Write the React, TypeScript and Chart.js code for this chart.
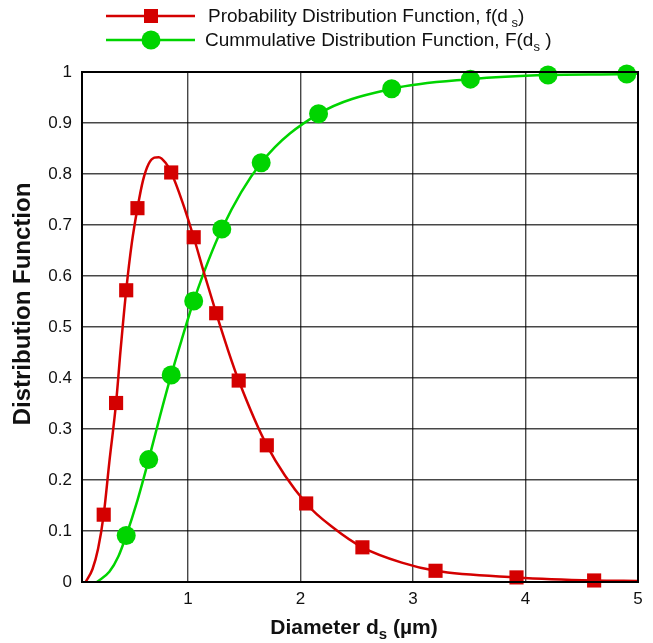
import React, { useEffect, useRef } from "react";
import { Chart, registerables } from "chart.js";

Chart.register(...registerables);

// Probability distribution function f(ds): markers
const pdfMarkerX = [0.25, 0.36, 0.45, 0.55, 0.85, 1.05, 1.25, 1.45, 1.7, 2.05, 2.55, 3.2, 3.92, 4.61];
const pdfMarkerY = [0.132, 0.351, 0.572, 0.733, 0.803, 0.676, 0.527, 0.395, 0.268, 0.154, 0.068, 0.022, 0.009, 0.003];
// f(ds): curve
const pdfCurveX = [0.09, 0.15, 0.2, 0.25, 0.3, 0.36, 0.4, 0.45, 0.5, 0.55, 0.6, 0.65, 0.7, 0.74, 0.8, 0.85, 0.95, 1.05, 1.15, 1.25, 1.35, 1.45, 1.7, 2.05, 2.3, 2.55, 2.9, 3.2, 3.92, 4.61, 5.0];
const pdfCurveY = [0.0, 0.025, 0.065, 0.132, 0.235, 0.351, 0.455, 0.572, 0.665, 0.733, 0.788, 0.82, 0.832, 0.833, 0.822, 0.803, 0.745, 0.676, 0.6, 0.527, 0.458, 0.395, 0.268, 0.154, 0.105, 0.068, 0.038, 0.022, 0.009, 0.003, 0.002];

// Cumulative distribution function F(ds): markers
const cdfMarkerX = [0.45, 0.65, 0.85, 1.05, 1.3, 1.65, 2.16, 2.81, 3.51, 4.2, 4.9];
const cdfMarkerY = [0.091, 0.24, 0.406, 0.551, 0.692, 0.822, 0.918, 0.967, 0.986, 0.994, 0.996];
// F(ds): curve
const cdfCurveX = [0.19, 0.3, 0.38, 0.45, 0.55, 0.65, 0.75, 0.85, 0.95, 1.05, 1.3, 1.65, 2.16, 2.81, 3.51, 4.2, 4.9, 5.0];
const cdfCurveY = [0.0, 0.02, 0.05, 0.091, 0.16, 0.24, 0.325, 0.406, 0.48, 0.551, 0.692, 0.822, 0.918, 0.967, 0.986, 0.994, 0.996, 0.997];

const xTicks = [1, 2, 3, 4, 5];
const xTickLabels = ["1", "2", "3", "4", "5"];
const yTicks = [0, 0.1, 0.2, 0.3, 0.4, 0.5, 0.6, 0.7, 0.8, 0.9, 1];
const yTickLabels = ["0", "0.1", "0.2", "0.3", "0.4", "0.5", "0.6", "0.7", "0.8", "0.9", "1"];

const RED = "#d40000";
const GREEN = "#00d400";
const FONT = "'Liberation Sans', Arial, Helvetica, sans-serif";

const toPts = (xs: number[], ys: number[]) => xs.map((x, i) => ({ x, y: ys[i] }));

function drawSubText(ctx: CanvasRenderingContext2D, parts: { t: string; sub?: boolean }[], x: number, y: number, size: number, bold: boolean, align: "left" | "center") {
  const w = bold ? "bold " : "";
  let total = 0;
  for (const p of parts) {
    ctx.font = `${w}${p.sub ? Math.round(size * 0.7) : size}px ${FONT}`;
    total += ctx.measureText(p.t).width;
  }
  let cx = align === "center" ? x - total / 2 : x;
  ctx.textAlign = "left";
  ctx.textBaseline = "alphabetic";
  for (const p of parts) {
    ctx.font = `${w}${p.sub ? Math.round(size * 0.7) : size}px ${FONT}`;
    ctx.fillText(p.t, cx, p.sub ? y + size * 0.25 : y);
    cx += ctx.measureText(p.t).width;
  }
}

const decorPlugin = {
  id: "decor",
  afterDraw(chart: any) {
    const ctx: CanvasRenderingContext2D = chart.ctx;
    const area = chart.chartArea;
    ctx.save();
    // legend
    const r1 = 16;
    const r2 = 40;
    ctx.lineWidth = 2.5;
    ctx.strokeStyle = RED;
    ctx.beginPath();
    ctx.moveTo(106, r1);
    ctx.lineTo(195, r1);
    ctx.stroke();
    ctx.fillStyle = RED;
    ctx.fillRect(151 - 7, r1 - 7, 14, 14);
    ctx.strokeStyle = GREEN;
    ctx.beginPath();
    ctx.moveTo(106, r2);
    ctx.lineTo(195, r2);
    ctx.stroke();
    ctx.fillStyle = GREEN;
    ctx.beginPath();
    ctx.arc(151, r2, 9.5, 0, Math.PI * 2);
    ctx.fill();
    ctx.fillStyle = "#111";
    drawSubText(ctx, [{ t: "Probability Distribution Function, f(d" }, { t: " s", sub: true }, { t: ")" }], 208, r1 + 6, 19, false, "left");
    drawSubText(ctx, [{ t: "Cummulative Distribution Function, F(d" }, { t: "s", sub: true }, { t: " )" }], 205, r2 + 6, 19, false, "left");
    // x title
    drawSubText(ctx, [{ t: "Diameter d" }, { t: "s", sub: true }, { t: " (\u00b5m)" }], 354, 634, 21, true, "center");
    // y title
    ctx.translate(30, 304);
    ctx.rotate(-Math.PI / 2);
    ctx.font = `bold 24px ${FONT}`;
    ctx.textAlign = "center";
    ctx.textBaseline = "alphabetic";
    ctx.fillText("Distribution Function", 0, 0);
    ctx.restore();
    // frame
    ctx.save();
    ctx.strokeStyle = "#000";
    ctx.lineWidth = 2;
    ctx.strokeRect(area.left, area.top, area.right - area.left, area.bottom - area.top);
    ctx.restore();
  },
};

export default function App() {
  const ref = useRef<HTMLCanvasElement | null>(null);
  useEffect(() => {
    document.body.style.margin = "0";
    if (!ref.current) return;
    const chart = new Chart(ref.current, {
      type: "line",
      data: {
        datasets: [
          {
            label: "f markers",
            data: toPts(pdfMarkerX, pdfMarkerY),
            showLine: false,
            pointStyle: "rect",
            pointRadius: 10,
            pointBackgroundColor: RED,
            pointBorderWidth: 0,
            borderColor: RED,
            order: 0,
            clip: false,
          } as any,
          {
            label: "F markers",
            data: toPts(cdfMarkerX, cdfMarkerY),
            showLine: false,
            pointStyle: "circle",
            pointRadius: 9.5,
            pointBackgroundColor: GREEN,
            pointBorderWidth: 0,
            borderColor: GREEN,
            order: 0,
            clip: false,
          } as any,
          {
            label: "f curve",
            data: toPts(pdfCurveX, pdfCurveY),
            borderColor: RED,
            borderWidth: 2.5,
            pointRadius: 0,
            cubicInterpolationMode: "monotone",
            order: 1,
          } as any,
          {
            label: "F curve",
            data: toPts(cdfCurveX, cdfCurveY),
            borderColor: GREEN,
            borderWidth: 2.5,
            pointRadius: 0,
            cubicInterpolationMode: "monotone",
            order: 1,
          } as any,
        ],
      },
      options: {
        animation: false,
        responsive: true,
        maintainAspectRatio: false,
        layout: { padding: { top: 72, right: 15, left: 0, bottom: 0 } },
        plugins: { legend: { display: false }, tooltip: { enabled: false } },
        scales: {
          x: {
            type: "linear",
            min: 0.057,
            max: 5,
            afterFit: (s: any) => { s.height = 61; },
            afterBuildTicks: (s: any) => { s.ticks = xTicks.map((v) => ({ value: v })); },
            ticks: {
              callback: (_v: any, i: number) => xTickLabels[i],
              font: { size: 17, family: FONT },
              color: "#111",
              padding: 7,
              maxRotation: 0,
            },
            grid: { color: "rgba(0,0,0,0.72)", lineWidth: 1.4, drawTicks: false },
            border: { color: "#000", width: 2 },
          },
          y: {
            type: "linear",
            min: 0,
            max: 1,
            afterFit: (s: any) => { s.width = 82; },
            afterBuildTicks: (s: any) => { s.ticks = yTicks.map((v) => ({ value: v })); },
            ticks: {
              callback: (_v: any, i: number) => yTickLabels[i],
              font: { size: 17, family: FONT },
              color: "#111",
              padding: 10,
            },
            grid: { color: "rgba(0,0,0,0.72)", lineWidth: 1.4, drawTicks: false },
            border: { color: "#000", width: 2 },
          },
        },
      } as any,
      plugins: [decorPlugin],
    });
    return () => chart.destroy();
  }, []);
  return (
    <div style={{ width: 653, height: 643, position: "relative" }}>
      <canvas ref={ref} />
    </div>
  );
}
